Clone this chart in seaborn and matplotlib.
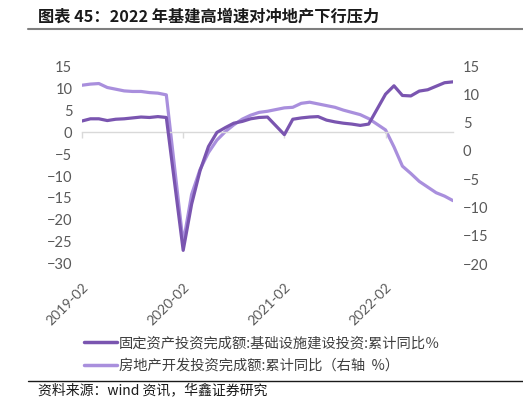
import matplotlib
matplotlib.use("Agg")
import matplotlib.pyplot as plt
import matplotlib.lines as mlines
import seaborn as sns
import pandas as pd

sns.set_theme(style="white")
plt.rcParams['font.family'] = ['Noto Sans CJK SC', 'DejaVu Sans']

# ---- data (monthly cumulative YoY, Jan merged into Feb) ----
years = [2019, 2020, 2021, 2022]
dates = [f"{y}-{m:02d}" for y in years for m in range(2, 13) if not (y == 2022 and m > 10)]

infra = [2.5, 3.0, 3.0, 2.6, 2.9, 3.0, 3.2, 3.4, 3.3, 3.5, 3.3,
         -26.9, -16.4, -8.8, -3.3, -0.1, 1.0, 2.0, 2.4, 3.0, 3.3, 3.4,
         -0.6, 2.9, 3.2, 3.4, 3.5, 2.7, 2.3, 2.0, 1.8, 1.5, 1.8,
         8.6, 10.5, 8.3, 8.2, 9.3, 9.6, 10.4, 11.2, 11.4]
realestate = [11.6, 11.8, 11.9, 11.2, 10.9, 10.6, 10.5, 10.5, 10.3, 10.2, 9.9,
              -16.3, -7.7, -3.3, -0.3, 1.9, 3.4, 4.6, 5.6, 6.3, 6.8, 7.0,
              7.6, 7.7, 8.4, 8.6, 8.3, 8.0, 7.7, 7.2, 6.8, 6.4, 5.7,
              3.7, 0.7, -2.7, -4.0, -5.4, -6.4, -7.4, -8.0, -8.8]
tick_labels = ["2019-02", "2020-02", "2021-02", "2022-02"]
name_infra = "固定资产投资完成额:基础设施建设投资:累计同比％"
name_re = "房地产开发投资完成额:累计同比（右轴  %）"

dt = pd.to_datetime(dates)
midx = (dt.year - 2019) * 12 + dt.month - 2
df = pd.DataFrame({"m": midx, "infra": infra, "re": realestate})

c_dark = "#7A55B0"
c_light = "#A98FDD"
tcol = "#595959"
num_font = ['Lato', 'DejaVu Sans']

fig = plt.figure(figsize=(5.23, 3.99), dpi=100)
ax = fig.add_axes([82/523, (399-264)/399, (453-82)/523, (264-66)/399])
ax2 = ax.twinx()

sns.lineplot(data=df, x="m", y="infra", ax=ax, color=c_dark, lw=2.3, zorder=3)
sns.lineplot(data=df, x="m", y="re", ax=ax2, color=c_light, lw=2.3, zorder=2)

ax.set_xlim(0, 44)
ax.set_ylim(-30, 15)
ax2.set_ylim(-20, 15)
ax.set_yticks(range(-30, 16, 5))
ax2.set_yticks(range(-20, 16, 5))
ax.set_xlabel("")
ax.set_ylabel("")
ax2.set_ylabel("")
ax.set_zorder(ax2.get_zorder() + 1)
ax.patch.set_visible(False)

for a in (ax, ax2):
    for s in a.spines.values():
        s.set_visible(False)
    a.tick_params(axis='y', length=0, labelsize=10.5, labelcolor=tcol, pad=7)
    for lab in a.get_yticklabels():
        lab.set_family(num_font)

# zero axis line with ticks
ax.spines['bottom'].set_visible(True)
ax.spines['bottom'].set_position(('data', 0))
ax.spines['bottom'].set_color("#D9D9D9")
ax.spines['bottom'].set_linewidth(1.0)
ax.set_xticks([0, 12, 24, 36])
ax.tick_params(axis='x', length=4, width=1, color="#D9D9D9", labelbottom=False, bottom=True)

sec = ax.secondary_xaxis(0)
sec.set_xticks([0, 12, 24, 36], labels=tick_labels)
sec.tick_params(length=0, labelsize=10, labelcolor=tcol, pad=12)
for lab in sec.get_xticklabels():
    lab.set_rotation(45)
    lab.set_ha('right')
    lab.set_rotation_mode('anchor')
    lab.set_family(num_font)
sec.spines['bottom'].set_visible(False)

# legend
h1 = mlines.Line2D([], [], color=c_dark, lw=2.5)
h2 = mlines.Line2D([], [], color=c_light, lw=2.5)
fig.legend([h1, h2], [name_infra, name_re], loc='upper left',
           bbox_to_anchor=(77/523, 1 - 329/399), frameon=False, fontsize=10.3,
           handlelength=2.3, handletextpad=0.15, labelspacing=0.6,
           borderpad=0, labelcolor="#404040")

# title & decorations
fig.text(38/523, 1 - 17/399, "图表 45：2022 年基建高增速对冲地产下行压力",
         fontsize=11.7, fontweight='bold', va='center', ha='left', color="#1a1a1a")
fig.add_artist(mlines.Line2D([28/523, 1], [1 - 29/399, 1 - 29/399], color="#7f7f7f", lw=1.5))
fig.add_artist(mlines.Line2D([28/523, 1], [1 - 381/399, 1 - 381/399], color="#1a1a1a", lw=1.0))
fig.text(38/523, 1 - 390/399, "资料来源：wind 资讯，华鑫证券研究", fontsize=10,
         va='center', ha='left', color="#1a1a1a")

fig.savefig("out.png", dpi=100)
